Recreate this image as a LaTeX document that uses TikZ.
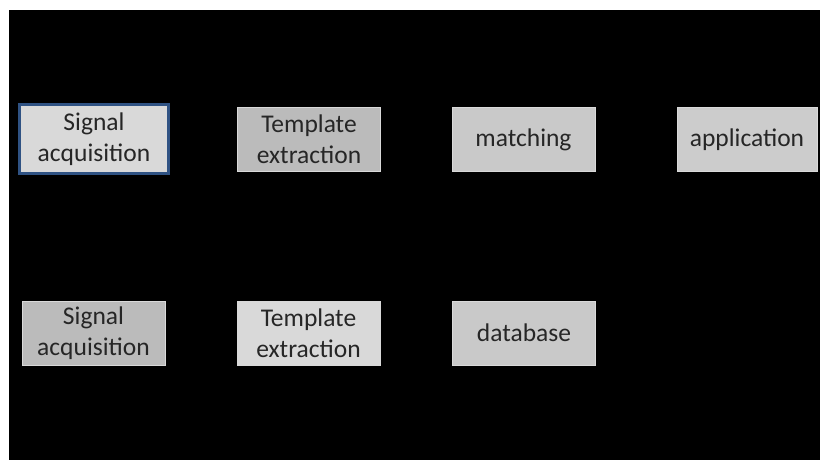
\documentclass[tikz,border=0pt]{standalone}
\usepackage{fontspec}
\setmainfont{Carlito}
\usepackage{tikz}
\usetikzlibrary{positioning}
\definecolor{boxlight}{HTML}{D9D9D9}
\definecolor{boxmid}{HTML}{C9C9C9}
\definecolor{boxdark}{HTML}{BBBBBB}
\definecolor{selblue}{HTML}{2F5283}
\definecolor{txtgray}{HTML}{262626}
\tikzset{
  stage/.style={
    draw=white!85!black, rectangle, line width=1pt,
    minimum width=143pt, minimum height=64pt,
    fill=boxmid, text=txtgray, align=center,
    font=\fontsize{25.5}{31}\selectfont, inner sep=0pt
  },
  selected/.style={
    stage, draw=selblue, line width=3pt,
    minimum width=149pt, minimum height=69pt
  },
}
\begin{document}
\begin{tikzpicture}[x=1pt, y=-1pt]
        \useasboundingbox (0,0) rectangle (820,460);
        \fill[white] (0,0) rectangle (820,460);
        \fill[black] (9,10) rectangle (820,460);
        % enrolment row
        \node[selected, fill=boxlight] (sigA) at (94, 139) {Signal\\acquisition};
        \node[stage, fill=boxdark] (tplA) at (309, 139.5) {Template\\extraction};
        \node[stage] (match) at (523.5, 139.5) {matching};
        \node[stage, fill=white!80!black, minimum width=140pt] (app) at (747, 139.5) {application};
        % verification row
        \node[stage, fill=boxdark] (sigB) at (93.5, 333) {Signal\\acquisition};
        \node[stage, fill=boxlight] (tplB) at (308.5, 333) {Template\\extraction};
        \node[stage] (db) at (524, 333) {database};
      \end{tikzpicture}
\end{document}
